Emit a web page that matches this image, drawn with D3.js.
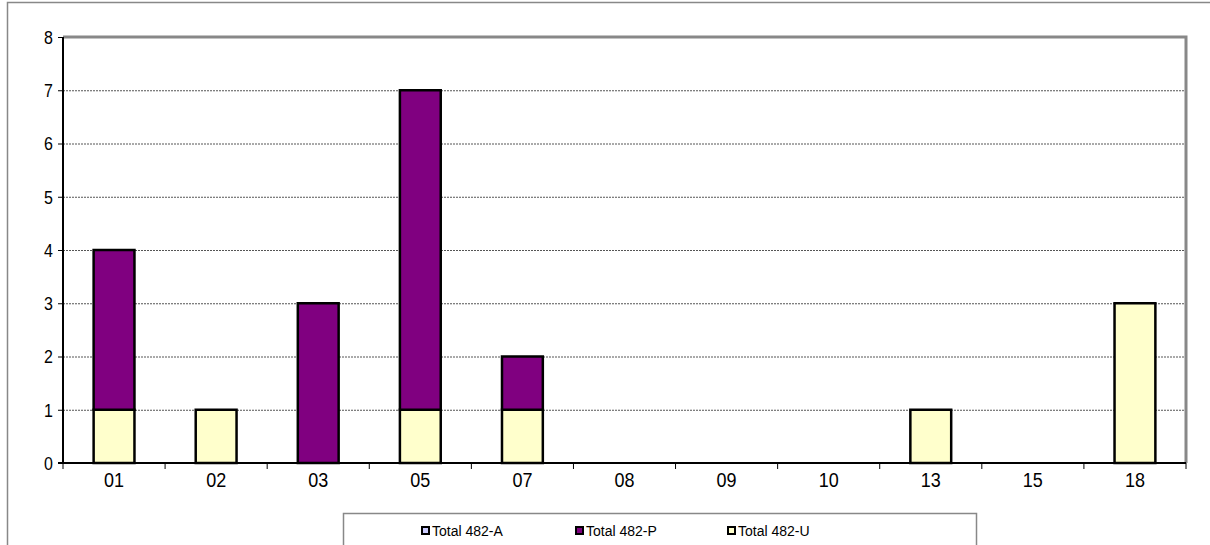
<!DOCTYPE html>
<html><head><meta charset="utf-8">
<script src="https://cdn.jsdelivr.net/npm/d3@7/dist/d3.min.js"></script>
<style>body{margin:0;background:#fff;}svg{display:block;font-family:"Liberation Sans",Arial,sans-serif;}</style>
</head><body>
<script>
const categories = ["01","02","03","05","07","08","09","10","13","15","18"];
const seriesNames = ["Total 482-A","Total 482-P","Total 482-U"];
const valuesA = [0,0,0,0,0,0,0,0,0,0,0];
const valuesP = [3,0,3,6,1,0,0,0,0,0,0];
const valuesU = [1,1,0,1,1,0,0,0,1,0,3];
const yTicks = [0,1,2,3,4,5,6,7,8];
const colors = {"Total 482-A":"#ccccff","Total 482-P":"#800080","Total 482-U":"#ffffcc"};

const W=1210,H=545;
const svg=d3.select("body").append("svg").attr("width",W).attr("height",H);
// outer chart border
svg.append("rect").attr("x",7.5).attr("y",2.5).attr("width",W).attr("height",H).attr("fill","none").attr("stroke","#888").attr("stroke-width",1.5);

const L=63,T=37,R=1186,B=463;
const x=d3.scaleBand().domain(categories).range([L,R]).paddingInner(0.6).paddingOuter(0.3);
const xb=d3.scaleBand().domain(categories).range([L,R]);
const y=d3.scaleLinear().domain([0,8]).range([B,T]);

// gridlines
svg.append("g").selectAll("line").data(yTicks.filter(d=>d>0&&d<8)).join("line")
 .attr("x1",L).attr("x2",R).attr("y1",d=>y(d)+0.5).attr("y2",d=>y(d)+0.5)
 .attr("stroke","#555").attr("stroke-width",1).attr("stroke-dasharray","2,1");
// plot border top/right gray
svg.append("path").attr("d",`M${L},${T}H${R}V${B}`).attr("fill","none").attr("stroke","#888").attr("stroke-width",3);

const data=categories.map((c,i)=>({cat:c,"Total 482-U":valuesU[i],"Total 482-P":valuesP[i],"Total 482-A":valuesA[i]}));
const stack=d3.stack().keys(["Total 482-U","Total 482-P","Total 482-A"])(data);
svg.append("g").selectAll("g").data(stack).join("g").attr("fill",d=>colors[d.key])
 .selectAll("rect").data(d=>d.filter(e=>e[1]-e[0]>0)).join("rect")
 .attr("x",d=>x(d.data.cat)).attr("width",x.bandwidth())
 .attr("y",d=>y(d[1])).attr("height",d=>y(d[0])-y(d[1]))
 .attr("stroke","#000").attr("stroke-width",2.5);

// y axis
const ya=svg.append("g").attr("transform",`translate(${L},0)`).call(d3.axisLeft(y).tickValues(yTicks).tickSize(5).tickPadding(10).tickFormat(d3.format("d")));
ya.select(".domain").attr("stroke","#000").attr("stroke-width",2).attr("d",`M0,${T}V${B}`);
ya.selectAll("text").attr("font-size",16).attr("font-family","Liberation Sans, Arial, sans-serif").attr("fill","#000")
  .attr("x",-10).attr("dy","0.36em").attr("transform","scale(1,1.12)");
// x axis
const xa=svg.append("g").attr("transform",`translate(0,${B})`).call(d3.axisBottom(xb).tickSize(0).tickPadding(9));
xa.select(".domain").attr("stroke","#000").attr("stroke-width",2).attr("d",`M${L-5},0H${R}`);
xa.selectAll("text").attr("font-size",18).attr("font-family","Liberation Sans, Arial, sans-serif").attr("fill","#000")
  .attr("y",21).attr("dy",0).attr("transform","scale(1,1.15)");
svg.append("g").selectAll("line").data(categories.concat(["end"])).join("line")
 .attr("x1",(d,i)=>L+i*xb.step()).attr("x2",(d,i)=>L+i*xb.step())
 .attr("y1",B).attr("y2",B+6).attr("stroke","#000").attr("stroke-width",1);

// legend
const lg=svg.append("g");
lg.append("rect").attr("x",343.5).attr("y",513.5).attr("width",633).attr("height",80).attr("fill","#fff").attr("stroke","#888").attr("stroke-width",1.5);
const lx=[422,576,728];
seriesNames.forEach((n,i)=>{
  lg.append("rect").attr("x",lx[i]).attr("y",527).attr("width",7).attr("height",7).attr("fill",colors[n]).attr("stroke","#000").attr("stroke-width",2);
  lg.append("text").attr("x",lx[i]+10).attr("y",536).attr("font-size",14).attr("fill","#000").text(n);
});
</script>
</body></html>
